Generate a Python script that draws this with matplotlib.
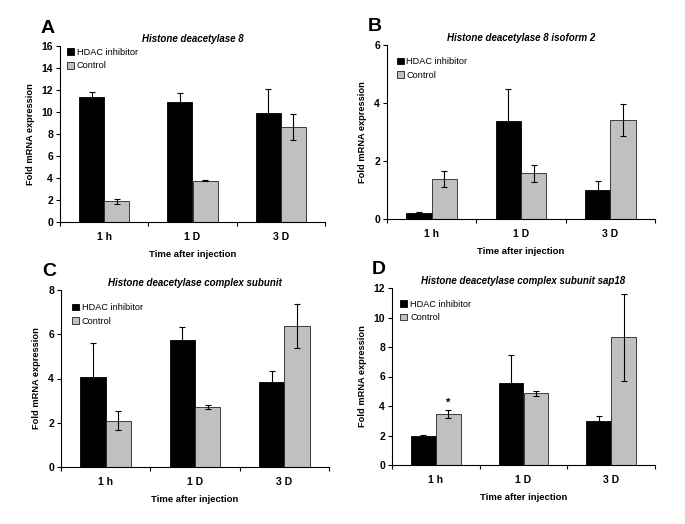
import matplotlib
matplotlib.use("Agg")
import matplotlib.pyplot as plt
import numpy as np

plt.rcParams['font.family'] = ['Liberation Sans', 'DejaVu Sans']

#### Data ####
categories = ["1 h", "1 D", "3 D"]
series_names = ["HDAC inhibitor", "Control"]

titles = ["Histone deacetylase 8",
          "Histone deacetylase 8 isoform 2",
          "Histone deacetylase complex subunit",
          "Histone deacetylase complex subunit sap18"]
letters = ["A", "B", "C", "D"]

hdac_vals = [[11.4, 10.9, 9.9],
             [0.21, 3.39, 0.99],
             [4.06, 5.72, 3.86],
             [1.94, 5.59, 2.98]]
hdac_err = [[0.42, 0.85, 2.2],
            [0.04, 1.08, 0.32],
            [1.56, 0.62, 0.47],
            [0.07, 1.88, 0.36]]
ctrl_vals = [[1.88, 3.75, 8.65],
             [1.39, 1.57, 3.41],
             [2.10, 2.72, 6.37],
             [3.45, 4.85, 8.66]]
ctrl_err = [[0.25, 0.05, 1.17],
            [0.28, 0.29, 0.54],
            [0.42, 0.08, 1.0],
            [0.28, 0.2, 2.95]]
ymax = [16, 6, 8, 12]
ystep = [2, 2, 2, 2]

#### Layout ####
W, H = 685, 524
# axes boxes in pixels: left, top, right, bottom
boxes = [(60, 46, 325, 222),
         (387, 45, 655, 219),
         (61, 290, 329, 467),
         (392, 288, 655, 465)]
letter_pos = [(41, 20), (368, 18), (42, 263), (372, 261)]
legend_anchor = [(0.02, 1.0), (0.03, 0.94), (0.035, 0.935), (0.025, 0.945)]

fig = plt.figure(figsize=(W / 100, H / 100), dpi=100)

w = 0.285
x = np.arange(len(categories))

for k in range(4):
    l, t, r, b = boxes[k]
    ax = fig.add_axes([l / W, 1 - b / H, (r - l) / W, (b - t) / H])

    ax.bar(x - w / 2, hdac_vals[k], w, color="black", edgecolor="black",
           linewidth=0.6, label=series_names[0], zorder=2)
    ax.bar(x + w / 2, ctrl_vals[k], w, color="#c0c0c0", edgecolor="#222222",
           linewidth=0.6, label=series_names[1], zorder=2)
    ax.errorbar(x - w / 2, hdac_vals[k], yerr=hdac_err[k], fmt="none",
                ecolor="black", elinewidth=0.8, capsize=2.5, capthick=0.8, zorder=3)
    ax.errorbar(x + w / 2, ctrl_vals[k], yerr=ctrl_err[k], fmt="none",
                ecolor="black", elinewidth=0.8, capsize=2.5, capthick=0.8, zorder=3)

    ax.set_xlim(-0.5, 2.5)
    ax.set_ylim(0, ymax[k])
    ax.set_yticks(np.arange(0, ymax[k] + 0.1, ystep[k]))
    ax.set_xticks([-0.5, 0.5, 1.5, 2.5])
    ax.set_xticklabels([])
    ax.set_xticks(x, minor=True)
    ax.set_xticklabels(categories, minor=True, fontsize=7.5, fontweight="bold")
    ax.tick_params(axis="x", which="minor", length=0, pad=7)
    ax.tick_params(axis="x", which="major", length=3, width=0.8, direction="out")
    ax.tick_params(axis="y", length=3, width=0.8, direction="out", pad=2,
                   labelsize=7.5)
    for lab in ax.get_yticklabels():
        lab.set_fontweight("bold")

    for s in ["top", "right"]:
        ax.spines[s].set_visible(False)
    for s in ["left", "bottom"]:
        ax.spines[s].set_linewidth(0.8)

    ax.set_xlabel("Time after injection", fontsize=6.8, fontweight="bold",
                  labelpad=6)
    ax.set_ylabel("Fold mRNA expression", fontsize=6.7, fontweight="bold",
                  labelpad=5)
    ax.set_title(titles[k], fontsize=7, fontweight="bold", style="italic",
                 pad=3)

    ax.legend(loc="upper left", bbox_to_anchor=legend_anchor[k], frameon=False,
              fontsize=6.6, handlelength=0.75, handleheight=0.75,
              handletextpad=0.3, borderaxespad=0, borderpad=0.2,
              labelspacing=0.5)

    if k == 3:
        ax.text(x[0] + w / 2, ctrl_vals[k][0] + ctrl_err[k][0] + 0.15, "*",
                ha="center", va="bottom", fontsize=8, fontweight="bold")

    lx, ly = letter_pos[k]
    fig.text(lx / W, 1 - ly / H, letters[k], fontsize=14, fontweight="bold",
             va="top", ha="left")

fig.savefig("out.png", dpi=100)
